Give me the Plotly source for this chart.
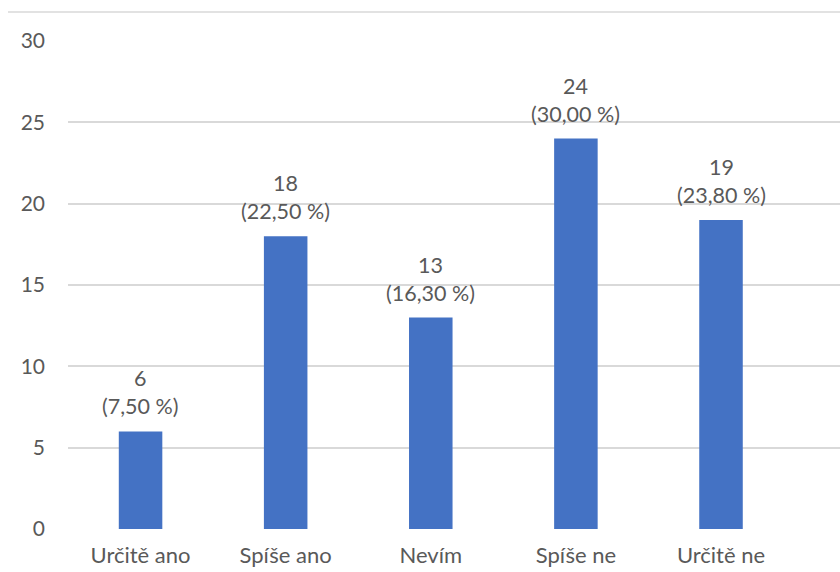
import plotly.graph_objects as go

categories = ["Určitě ano", "Spíše ano", "Nevím", "Spíše ne", "Určitě ne"]
counts = [6, 18, 13, 24, 19]
percents = ["7,50 %", "22,50 %", "16,30 %", "30,00 %", "23,80 %"]
y_ticks = [0, 5, 10, 15, 20, 25, 30]

FONT = "Lato"
GRAY = "#595959"

fig = go.Figure()
fig.add_trace(go.Bar(
    x=list(range(len(categories))),
    y=counts,
    width=0.30,
    marker=dict(color="#4472C4", line=dict(width=0)),
    hoverinfo="skip",
))

for i, (c, p) in enumerate(zip(counts, percents)):
    fig.add_annotation(
        x=i, y=c, xref="x", yref="y",
        text=f"{c}<br>({p})",
        showarrow=False, yanchor="bottom", yshift=10,
        font=dict(family=FONT, size=21.5, color=GRAY),
        align="center",
    )

fig.add_shape(type="line", xref="paper", yref="paper",
              x0=(8 - 68) / 772, x1=1, y0=1 + 29 / 488, y1=1 + 29 / 488,
              line=dict(color="#d9d9d9", width=1.5))

fig.update_layout(
    width=840, height=572,
    margin=dict(l=68, r=0, t=41, b=43),
    paper_bgcolor="white", plot_bgcolor="white",
    showlegend=False,
    font=dict(family=FONT, size=21, color=GRAY),
    xaxis=dict(
        range=[-0.5, 4.82],
        tickmode="array",
        tickvals=list(range(len(categories))),
        ticktext=categories,
        showgrid=False, zeroline=False, showline=False,
        ticks="", ticklabelstandoff=11,
        tickfont=dict(family=FONT, size=22, color=GRAY),
    ),
    yaxis=dict(
        range=[0, 30],
        tickmode="array", tickvals=y_ticks,
        showgrid=True, gridcolor="#d9d9d9", gridwidth=1.5,
        zeroline=False, showline=False,
        ticks="", ticklabelstandoff=22,
        tickfont=dict(family=FONT, size=21, color=GRAY),
    ),
)

fig.write_html("out.html")
